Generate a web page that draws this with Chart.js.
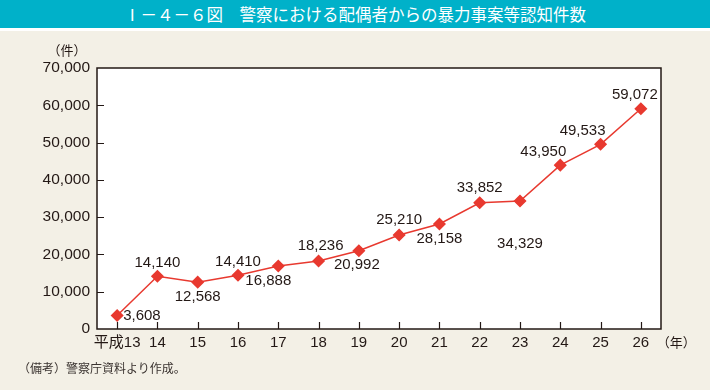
<!DOCTYPE html>
<html>
<head>
<meta charset="utf-8">
<script src="https://cdn.jsdelivr.net/npm/chart.js@4"></script>
<style>
  body { margin: 0; width: 710px; height: 390px; background: #f3f0e6; position: relative; overflow: hidden; }
  #wrap { position: absolute; left: 0; top: 0; width: 710px; height: 390px; }
  #title { position: absolute; left: 0; top: 0; width: 710px; height: 28px; background: #00b1c9; color: #fff;
    font: 16.5px 'Noto Sans CJK JP', sans-serif; line-height: 28px; text-align: center; border-bottom: 3px solid #fff; z-index: 2; }
  #note { position: absolute; left: 18px; top: 359px; font: 12px 'Noto Sans CJK JP', sans-serif; color: #3a3330; }
</style>
</head>
<body>
<div id="title">Ⅰ－４－６図　警察における配偶者からの暴力事案等認知件数</div>
<div id="wrap"><canvas id="chart" width="710" height="390"></canvas></div>
<div id="note">（備考）警察庁資料より作成。</div>
<script>
const years = ['平成13', '14', '15', '16', '17', '18', '19', '20', '21', '22', '23', '24', '25', '26'];
const cases = [3608, 14140, 12568, 14410, 16888, 18236, 20992, 25210, 28158, 33852, 34329, 43950, 49533, 59072];
const yMin = 0;
const yMax = 70000;
const yStep = 10000;

const textColor = '#231815';
const lineColor = '#e8392f';
const numFont = "'Liberation Sans', Arial, sans-serif";
const jpFont = "'Noto Sans CJK JP', sans-serif";

// where each value label sits relative to its point: [dx, dy, align]
const labelOffsets = [
  [6, 0, 'left'], [0, -13, 'center'], [0, 15, 'center'], [0, -13, 'center'],
  [-10, 15, 'center'], [2, -15, 'center'], [-2, 14, 'center'], [0, -15, 'center'],
  [0, 15, 'center'], [0, -15, 'center'], [0, 43, 'center'], [-17, -13, 'center'],
  [-18, -13, 'center'], [-6, -14, 'center']
];

const fmt = v => v.toLocaleString('en-US');

// white plot box, inward tick marks, unit labels and value labels
const decorations = {
  id: 'decorations',
  beforeDraw(chart) {
    const { ctx, chartArea: a } = chart;
    ctx.save();
    ctx.fillStyle = '#fff';
    ctx.fillRect(a.left, a.top, a.right - a.left, a.bottom - a.top);
    ctx.restore();
  },
  afterDatasetsDraw(chart) {
    const { ctx, chartArea: a, scales } = chart;
    ctx.save();
    ctx.strokeStyle = textColor;
    ctx.lineWidth = 1.5;
    ctx.strokeRect(a.left, a.top, a.right - a.left, a.bottom - a.top);
    ctx.lineWidth = 1.2;
    ctx.beginPath();
    for (let v = yMin + yStep; v < yMax; v += yStep) {
      const y = Math.round(scales.y.getPixelForValue(v)) + 0.5;
      ctx.moveTo(a.left, y);
      ctx.lineTo(a.left + 7, y);
    }
    years.forEach((_, i) => {
      const x = Math.round(scales.x.getPixelForValue(i)) + 0.5;
      ctx.moveTo(x, a.bottom);
      ctx.lineTo(x, a.bottom - 7);
    });
    ctx.stroke();

    ctx.fillStyle = textColor;
    ctx.font = '13px ' + jpFont;
    ctx.textAlign = 'center';
    ctx.textBaseline = 'middle';
    ctx.fillText('（件）', a.left - 30, a.top - 18);
    ctx.textAlign = 'left';
    ctx.fillText('（年）', scales.x.getPixelForValue(years.length - 1) + 16, a.bottom + 13);

    ctx.font = '15px ' + numFont;
    const meta = chart.getDatasetMeta(0);
    meta.data.forEach((pt, i) => {
      const [dx, dy, align] = labelOffsets[i];
      ctx.textAlign = align;
      ctx.fillText(fmt(cases[i]), pt.x + dx, pt.y + dy);
    });
    ctx.restore();
  }
};

new Chart(document.getElementById('chart'), {
  type: 'line',
  data: {
    labels: years,
    datasets: [{
      data: cases,
      borderColor: lineColor,
      backgroundColor: lineColor,
      borderWidth: 1.5,
      pointStyle: 'rectRot',
      pointRadius: 5.5,
      pointHoverRadius: 5.5,
      tension: 0
    }]
  },
  options: {
    responsive: false,
    animation: false,
    layout: { padding: { top: 68, right: 49, left: 0, bottom: 0 } },
    plugins: { legend: { display: false }, tooltip: { enabled: false } },
    scales: {
      x: {
        offset: true,
        grid: { display: false, drawTicks: false },
        border: { display: false },
        ticks: { color: textColor, font: { size: 15, family: "'Liberation Sans', 'Noto Sans CJK JP', sans-serif" }, padding: 5, maxRotation: 0, autoSkip: false },
        afterFit: s => { s.height = 61; }
      },
      y: {
        min: yMin,
        max: yMax,
        grid: { display: false, drawTicks: false },
        border: { display: false },
        ticks: { stepSize: yStep, color: textColor, font: { size: 15.5, family: numFont }, padding: 7, callback: v => fmt(v) },
        afterFit: s => { s.width = 97; }
      }
    }
  },
  plugins: [decorations]
});
</script>
</body>
</html>
